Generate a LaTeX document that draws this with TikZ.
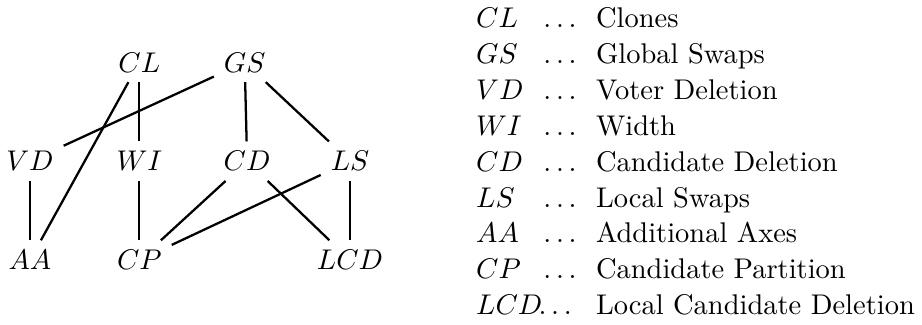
\documentclass[tikz,border=0pt]{standalone}
\usepackage{fontspec}
\usepackage{tikz}
\usetikzlibrary{positioning}

\begin{document}
\begin{tikzpicture}[param/.style={inner sep=3.33pt},
		rel/.style={thick},
		key/.style={anchor=base west, inner sep=0pt}]
		\useasboundingbox (-0.37, 3.21) rectangle (11.01, -0.80);

		% the parameters
		\node[param] (CL) at (1.35, 2.44) {$CL$};
		\node[param] (GS) at (2.65, 2.44) {$GS$};
		\node[param] (VD) at (0, 1.22) {$VD$};
		\node[param] (WI) at (1.35, 1.22) {$WI$};
		\node[param] (CD) at (2.68, 1.22) {$CD$};
		\node[param] (LS) at (3.95, 1.22) {$LS$};
		\node[param] (AA) at (0, 0) {$AA$};
		\node[param] (CP) at (1.35, 0) {$CP$};
		\node[param] (LCD) at (3.95, 0) {$LCD$};

		\draw[rel] (CL) -- (WI);
		\draw[rel] (CL) -- (AA);
		\draw[rel] (GS) -- (VD);
		\draw[rel] (GS) -- (CD);
		\draw[rel] (GS) -- (LS);
		\draw[rel] (VD) -- (AA);
		\draw[rel] (WI) -- (CP);
		\draw[rel] (CD) -- (CP);
		\draw[rel] (CD) -- (LCD);
		\draw[rel] (LS) -- (CP);
		\draw[rel] (LS) -- (LCD);

		% the legend
		\node[key] (kCL) at (5.50, 2.875) {$CL$};
		\node[key] (dCL) at (6.33, 2.875) {$\dots$};
		\node[key] (tCL) at (6.98, 2.875) {Clones};

		\node[key] (kGS) at (5.50, 2.431) {$GS$};
		\node[key] (dGS) at (6.33, 2.431) {$\dots$};
		\node[key] (tGS) at (6.98, 2.431) {Global Swaps};

		\node[key] (kVD) at (5.50, 1.987) {$VD$};
		\node[key] (dVD) at (6.33, 1.987) {$\dots$};
		\node[key] (tVD) at (6.98, 1.987) {Voter Deletion};

		\node[key] (kWI) at (5.50, 1.543) {$WI$};
		\node[key] (dWI) at (6.33, 1.543) {$\dots$};
		\node[key] (tWI) at (6.98, 1.543) {Width};

		\node[key] (kCD) at (5.50, 1.099) {$CD$};
		\node[key] (dCD) at (6.33, 1.099) {$\dots$};
		\node[key] (tCD) at (6.98, 1.099) {Candidate Deletion};

		\node[key] (kLS) at (5.50, 0.655) {$LS$};
		\node[key] (dLS) at (6.33, 0.655) {$\dots$};
		\node[key] (tLS) at (6.98, 0.655) {Local Swaps};

		\node[key] (kAA) at (5.50, 0.211) {$AA$};
		\node[key] (dAA) at (6.33, 0.211) {$\dots$};
		\node[key] (tAA) at (6.98, 0.211) {Additional Axes};

		\node[key] (kCP) at (5.50, -0.233) {$CP$};
		\node[key] (dCP) at (6.33, -0.233) {$\dots$};
		\node[key] (tCP) at (6.98, -0.233) {Candidate Partition};

		\node[key] (kLCD) at (5.50, -0.677) {$LCD$};
		\node[key] (dLCD) at (6.27, -0.677) {$\dots$};
		\node[key] (tLCD) at (6.98, -0.677) {Local Candidate Deletion};

	\end{tikzpicture}
\end{document}
